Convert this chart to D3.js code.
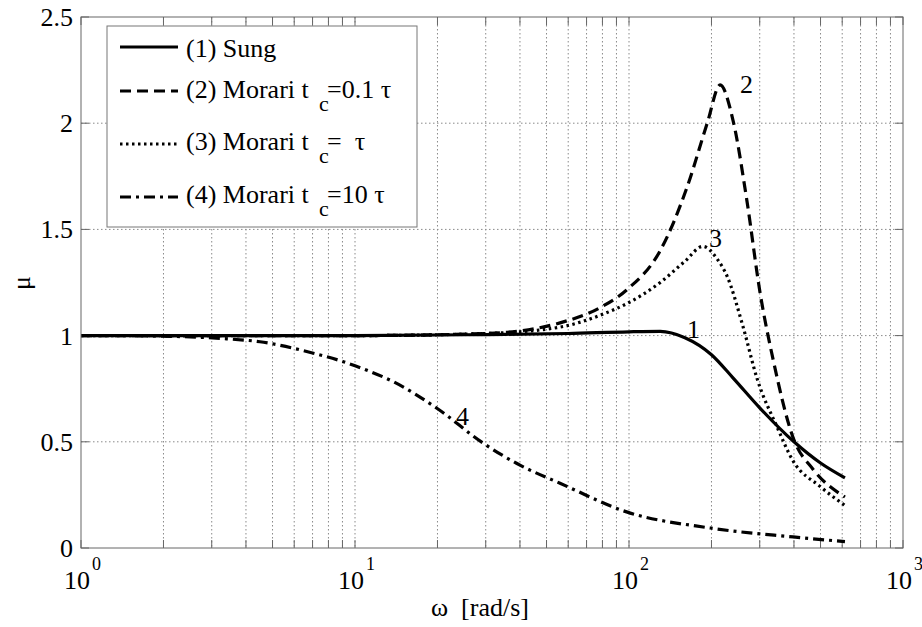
<!DOCTYPE html>
<meta charset="utf-8">
<head>
	<script type="text/javascript" src="https://cdn.jsdelivr.net/npm/d3@7"></script>
	<style>
		body { margin: 0; background: #fff; }
	</style>
</head>
<body>
	<svg id="chart" width="922" height="627"></svg>
</body>
<script type="text/javascript">
	// values (omega in rad/s, mu)
	var sungW = [1, 10, 30, 60, 100, 130, 160, 200, 240, 300, 400, 500, 614];
	var sungMu = [1, 1.0, 1.005, 1.01, 1.018, 1.02, 0.99, 0.91, 0.8, 0.66, 0.5, 0.4, 0.33];

	var mor01W = [1, 10, 30, 56, 78, 98, 130, 163, 193, 215, 240, 269, 301, 336, 397, 470, 614];
	var mor01Mu = [1, 1.0, 1.01, 1.06, 1.13, 1.215, 1.40, 1.70, 2.0, 2.18, 2.01, 1.64, 1.20, 0.885, 0.52, 0.37, 0.24];

	var mor1W = [1, 10, 30, 56, 80, 98, 130, 160, 186, 210, 228, 261, 293, 347, 397, 498, 614];
	var mor1Mu = [1, 1.0, 1.01, 1.04, 1.10, 1.15, 1.25, 1.35, 1.42, 1.36, 1.28, 1.04, 0.80, 0.57, 0.41, 0.29, 0.20];

	var mor10W = [1.6, 3.4, 4.5, 7.05, 9.07, 11, 13.8, 19.9, 29.4, 40, 56, 98, 198, 397, 614];
	var mor10Mu = [1.0, 0.985, 0.971, 0.917, 0.877, 0.838, 0.783, 0.658, 0.493, 0.39, 0.305, 0.17, 0.094, 0.052, 0.03];

	var yTicks = [0, 0.5, 1, 1.5, 2, 2.5];
	var yTickLabels = ["0", "0.5", "1", "1.5", "2", "2.5"];
	var xDecades = [0, 1, 2, 3];

	var legendLabels = ["(1) Sung", "(2) Morari t", "(3) Morari t", "(4) Morari t"];
	var legendTails = ["", "=0.1 \u03c4", "=  \u03c4", "=10 \u03c4"];
	var curveNames = ["1", "2", "3", "4"];

	(function(){
	var serif = "'Liberation Serif', 'DejaVu Serif', serif";
	var series = [
		{w: sungW, mu: sungMu, dash: null},
		{w: mor01W, mu: mor01Mu, dash: "11,6"},
		{w: mor1W, mu: mor1Mu, dash: "2.5,3.5"},
		{w: mor10W, mu: mor10Mu, dash: "11,5,3,5"}
	];

	var pL = 81, pR = 903, pT = 17, pB = 548;
	var svg = d3.select('#chart');

	var x = d3.scaleLog().domain([1, 1000]).range([pL, pR]);
	var y = d3.scaleLinear().domain([0, 2.5]).range([pB, pT]);

	// minor positions 1..9 for each decade
	var minor = [];
	for (var k = 0; k < 3; k++)
		for (var m = 1; m < 10; m++)
			minor.push(m * Math.pow(10, k));
	minor.push(1000);

	var grid = svg.append('g');
	grid.selectAll('line.vg').data(minor.filter(function(v){ return v > 1 && v < 1000; }))
		.enter().append('line')
		.attr('x1', function(d){ return x(d); }).attr('x2', function(d){ return x(d); })
		.attr('y1', pT).attr('y2', pB)
		.attr('stroke', '#8a8a8a').attr('stroke-width', 1).attr('stroke-dasharray', '1.5,2.5');
	grid.selectAll('line.hg').data(yTicks.filter(function(v){ return v > 0 && v < 2.5; }))
		.enter().append('line')
		.attr('y1', function(d){ return y(d); }).attr('y2', function(d){ return y(d); })
		.attr('x1', pL).attr('x2', pR)
		.attr('stroke', '#8a8a8a').attr('stroke-width', 1).attr('stroke-dasharray', '1.5,2.5');

	// ticks on all four sides
	var ticks = svg.append('g').attr('stroke', '#666').attr('stroke-width', 1);
	minor.forEach(function(v){
		ticks.append('line').attr('x1', x(v)).attr('x2', x(v)).attr('y1', pB).attr('y2', pB - 8);
		ticks.append('line').attr('x1', x(v)).attr('x2', x(v)).attr('y1', pT).attr('y2', pT + 8);
	});
	yTicks.forEach(function(v){
		ticks.append('line').attr('x1', pL).attr('x2', pL + 8).attr('y1', y(v)).attr('y2', y(v));
		ticks.append('line').attr('x1', pR).attr('x2', pR - 8).attr('y1', y(v)).attr('y2', y(v));
	});

	var txt = svg.append('g').style('font-family', serif);

	// tick labels
	txt.selectAll('text.yl').data(yTicks).enter().append('text')
		.attr('x', pL - 8).attr('y', function(d){ return y(d) + 9; })
		.attr('text-anchor', 'end').attr('font-size', 26)
		.text(function(d, i){ return yTickLabels[i]; });

	xDecades.forEach(function(e){
		var px = x(Math.pow(10, e));
		txt.append('text').attr('x', px + 9).attr('y', 589)
			.attr('text-anchor', 'end').attr('font-size', 26).text('10');
		txt.append('text').attr('x', px + 11).attr('y', 570)
			.attr('font-size', 18).text(String(e));
	});

	// curves
	var line = d3.line()
		.x(function(d){ return x(d[0]); })
		.y(function(d){ return y(d[1]); })
		.curve(d3.curveMonotoneX);

	var plot = svg.append('g');
	series.forEach(function(s){
		var pts = s.w.map(function(w, i){ return [w, s.mu[i]]; });
		var p = plot.append('path')
			.attr('d', line(pts))
			.attr('fill', 'none')
			.attr('stroke', 'black')
			.attr('stroke-width', 3.2);
		if (s.dash) p.attr('stroke-dasharray', s.dash);
	});

	// curve number labels
	var labelPos = [[687, 338], [740, 93], [709, 247], [456, 425]];
	var nums = svg.append('g').style('font-family', serif);
	curveNames.forEach(function(n, i){
		nums.append('text').attr('x', labelPos[i][0]).attr('y', labelPos[i][1])
			.attr('font-size', 26).text(n);
	});

	// axes box
	svg.append('rect').attr('x', pL).attr('y', pT)
		.attr('width', pR - pL).attr('height', pB - pT)
		.attr('fill', 'none').attr('stroke', '#666').attr('stroke-width', 1);

	// legend
	var lg = svg.append('g').style('font-family', serif);
	lg.append('rect').attr('x', 107).attr('y', 26).attr('width', 310).attr('height', 201)
		.attr('fill', 'white').attr('stroke', '#777').attr('stroke-width', 1);
	var rowLine = [47, 91, 144, 197];
	var rowBase = [57, 98, 150, 203];
	series.forEach(function(s, i){
		var l = lg.append('line').attr('x1', 120).attr('x2', 178)
			.attr('y1', rowLine[i]).attr('y2', rowLine[i])
			.attr('stroke', 'black').attr('stroke-width', 3.2);
		if (s.dash) l.attr('stroke-dasharray', s.dash);
		lg.append('text').attr('x', 186).attr('y', rowBase[i]).attr('font-size', 26).text(legendLabels[i]);
		if (i > 0) {
			lg.append('text').attr('x', 319).attr('y', rowBase[i] + 13).attr('font-size', 22).text('c');
			lg.append('text').attr('x', 327).attr('y', rowBase[i]).attr('font-size', 26)
				.style('white-space', 'pre').text(legendTails[i]);
		}
	});

	// axis labels
	txt.append('text').attr('x', 480).attr('y', 616).attr('text-anchor', 'middle')
		.attr('font-size', 26).style('white-space', 'pre').text('\u03c9  [rad/s]');
	txt.append('text').attr('transform', 'translate(30,283) rotate(-90)')
		.attr('text-anchor', 'middle').attr('font-size', 26).text('\u03bc');
	})();
</script>
